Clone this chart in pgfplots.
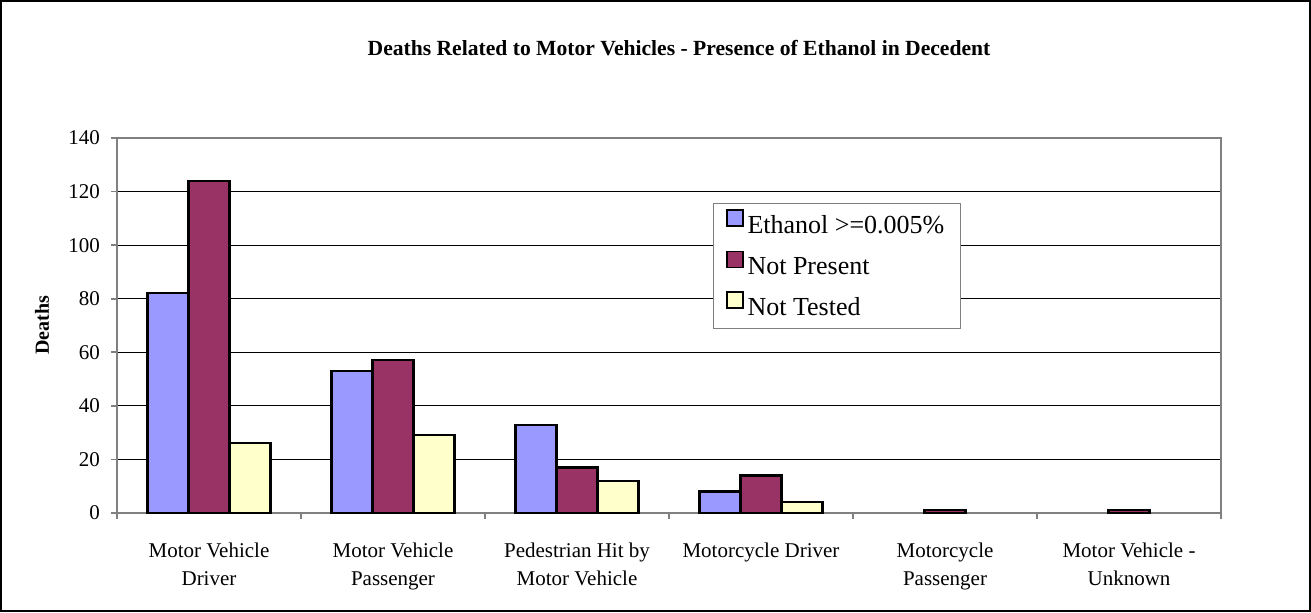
\documentclass[border=0pt]{standalone}
\usepackage{fontspec}
\setmainfont{Liberation Serif}
\usepackage{pgfplots}
\pgfplotsset{compat=1.18}
\definecolor{ethblue}{RGB}{153,153,255}
\definecolor{notpres}{RGB}{153,51,102}
\definecolor{nottest}{RGB}{255,255,204}

\begin{document}
\begin{tikzpicture}
\useasboundingbox (-58.5pt,-49.5pt) rectangle (597pt,256.5pt);
\draw[line width=0.8pt] (-58pt,-49pt) rectangle (596.5pt,256pt);
\node[font=\bfseries\fontsize{10.8}{12}\selectfont] at (281pt,232.5pt) {Deaths Related to Motor Vehicles - Presence of Ethanol in Decedent};
\begin{axis}[
  at={(0,0)}, anchor=south west,
  scale only axis, width=552pt, height=187.5pt,
  ybar=0pt, bar width=20.5pt,
  xmin=-0.5, xmax=5.5, ymin=0, ymax=140,
  ytick={0,20,...,140},
  xtick={-0.5,0.5,...,5.5},
  x tick label as interval,
  xticklabels={{Motor Vehicle\\Driver},{Motor Vehicle\\Passenger},{Pedestrian Hit by\\Motor Vehicle},{Motorcycle Driver},{Motorcycle\\Passenger},{Motor Vehicle -\\Unknown}},
  xticklabel style={align=center, font=\fontsize{10.5}{14}\selectfont, yshift=-8.5pt},
  yticklabel style={font=\fontsize{10.5}{12}\selectfont, xshift=-2pt},
  /pgf/number format/assume math mode=true,
  xtick pos=bottom, ytick pos=left,
  tick align=outside, major tick length=3pt,
  tick style={gray, line width=0.8pt},
  axis line style={gray, line width=1pt},
  ymajorgrids, grid style={black, line width=0.5pt},
  ylabel={Deaths},
  ylabel style={font=\bfseries\fontsize{10}{12}\selectfont, anchor=center, at={(axis description cs:-0.068,0.5)}},
  legend style={at={(0.540,0.827)}, anchor=north west, draw=gray, line width=0.6pt,
    font=\fontsize{13}{15}\selectfont, row sep=4.8pt, inner xsep=6pt, inner ysep=3pt},
  legend cell align=left,
  legend image code/.code={\draw[#1, line width=0.9pt] (2pt,0pt) rectangle (10pt,8pt);},
  every axis plot/.append style={draw=black, line width=1.1pt},
]
% zero counts are left out, as they draw nothing in the reference
\addplot[fill=ethblue] coordinates {(0,82) (1,53) (2,33) (3,8)};
\addplot[fill=notpres] coordinates {(0,124) (1,57) (2,17) (3,14) (4,1) (5,1)};
\addplot[fill=nottest] coordinates {(0,26) (1,29) (2,12) (3,4)};
\legend{Ethanol >=0.005\%, Not Present, Not Tested}
\end{axis}
\end{tikzpicture}
\end{document}
